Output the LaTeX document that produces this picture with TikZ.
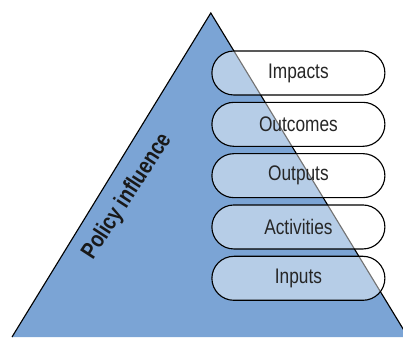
\documentclass[tikz,border=0pt]{standalone}
\usepackage{fontspec}
\setmainfont{Liberation Sans}[FakeStretch=0.82]
\usetikzlibrary{positioning}
\definecolor{pyramidblue}{RGB}{123,164,213}
\begin{document}
\begin{tikzpicture}[stage/.style={draw,thick,rounded corners=0.55cm,fill=white,fill opacity=0.45,text opacity=1,minimum width=4.325cm,minimum height=1.1cm,inner sep=0pt,text=black!85,font=\fontsize{15}{17}\selectfont}]
        \clip (0,0) rectangle (10.075,8.425);
        \coordinate (top) at (5.27,8.1);
        \coordinate (left) at (0.3,0);
        \coordinate (right) at (10.2,0);
        \fill[pyramidblue] (left) -- (top) -- (right) -- cycle;
        \draw[thick] (left) -- (top) -- (right);

        \node[stage] at (7.46,6.6) (impacts) {Impacts};
        \node[stage,below=0.155cm of impacts] (outcomes) {Outcomes};
        \node[stage,below=0.155cm of outcomes] (outputs) {Outputs};
        \node[stage,below=0.155cm of outputs] (activities) {Activities};
        \node[stage,below=0.155cm of activities] (inputs) {Inputs};

        \node[rotate=57,text=black!90,font=\bfseries\fontsize{16.5}{18}\selectfont] at (3.18,3.51) (policy) {Policy influence};
\end{tikzpicture}
\end{document}
